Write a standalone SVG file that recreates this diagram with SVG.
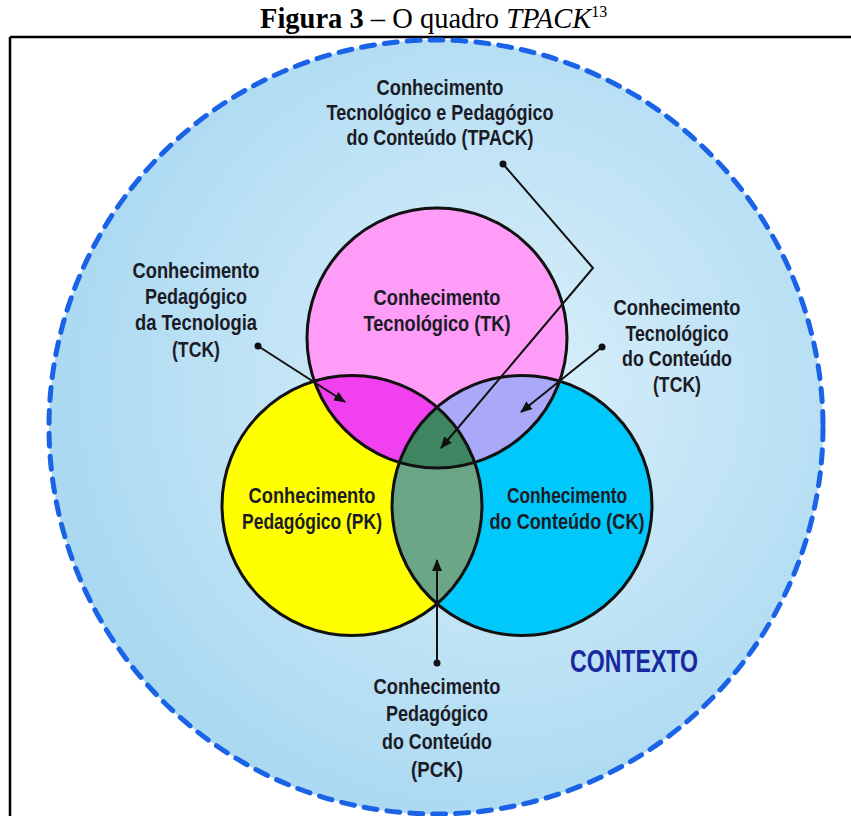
<svg xmlns="http://www.w3.org/2000/svg" width="851" height="816" viewBox="0 0 851 816">
<style>
.lbl{font-family:"Liberation Sans",Arial,sans-serif;font-weight:bold;font-size:22px;fill:#1b1b26;text-anchor:middle}
.ctx{font-family:"Liberation Sans",Arial,sans-serif;font-weight:bold;font-size:31px;fill:#1a28a0;text-anchor:middle}
.ttl{font-family:"Liberation Serif","Times New Roman",serif;font-size:28.5px;fill:#000}
.ring{fill:none;stroke:#111;stroke-width:3}
.conn{stroke:#111;stroke-width:2;fill:none}
</style>
<defs>
<radialGradient id="ctxg" cx="0.58" cy="0.45" r="0.6">
<stop offset="0" stop-color="#dcf0fa"/>
<stop offset="1" stop-color="#a8d8f1"/>
</radialGradient>
<clipPath id="cP"><circle cx="437" cy="338" r="130"/></clipPath>
<clipPath id="cY"><circle cx="352" cy="505.5" r="130"/></clipPath>
<clipPath id="cC"><circle cx="522" cy="505.5" r="130"/></clipPath>
<marker id="ah" viewBox="0 0 12 10" refX="11" refY="5" markerWidth="12" markerHeight="10" markerUnits="userSpaceOnUse" orient="auto">
<path d="M0,0 L12,5 L0,10 z" fill="#111"/>
</marker>
</defs>
<rect width="851" height="816" fill="#fff"/>
<g id="title">
<text class="ttl" x="260" y="28"><tspan font-weight="bold">Figura 3</tspan> – O quadro <tspan font-style="italic">TPACK</tspan><tspan font-size="16" dy="-11">13</tspan></text>
</g>
<g id="frame">
<path d="M10,37 H851 M10,37 V816" stroke="#000" stroke-width="2.5" fill="none"/>
</g>
<g id="context">
<circle cx="436" cy="427" r="387" fill="url(#ctxg)" stroke="#1a62e6" stroke-width="5" stroke-dasharray="13 10" stroke-linecap="round"/>
<text class="ctx" x="634" y="672" textLength="128" lengthAdjust="spacingAndGlyphs">CONTEXTO</text>
</g>
<g id="tk"><circle cx="437" cy="338" r="130" fill="#ff9cf8"/></g>
<g id="pk"><circle cx="352" cy="505.5" r="130" fill="#ffff00"/></g>
<g id="ck"><circle cx="522" cy="505.5" r="130" fill="#00c8fa"/></g>
<g id="tpk"><circle cx="352" cy="505.5" r="130" fill="#f040f0" clip-path="url(#cP)"/></g>
<g id="tck"><circle cx="522" cy="505.5" r="130" fill="#aaa8f8" clip-path="url(#cP)"/></g>
<g id="pck"><circle cx="522" cy="505.5" r="130" fill="#6ba686" clip-path="url(#cY)"/></g>
<g id="tpack"><g clip-path="url(#cP)"><circle cx="522" cy="505.5" r="130" fill="#3f8562" clip-path="url(#cY)"/></g></g>
<g id="rings">
<circle class="ring" cx="437" cy="338" r="130"/>
<circle class="ring" cx="352" cy="505.5" r="130"/>
<circle class="ring" cx="522" cy="505.5" r="130"/>
</g>
<g id="labels">
<text class="lbl" x="440" y="95" textLength="127" lengthAdjust="spacingAndGlyphs">Conhecimento</text>
<text class="lbl" x="440" y="120" textLength="227" lengthAdjust="spacingAndGlyphs">Tecnológico e Pedagógico</text>
<text class="lbl" x="440" y="145" textLength="187" lengthAdjust="spacingAndGlyphs">do Conteúdo (TPACK)</text>
<text class="lbl" x="437" y="305" textLength="127" lengthAdjust="spacingAndGlyphs">Conhecimento</text>
<text class="lbl" x="437" y="331" textLength="147" lengthAdjust="spacingAndGlyphs">Tecnológico (TK)</text>
<text class="lbl" x="312" y="503" textLength="127" lengthAdjust="spacingAndGlyphs">Conhecimento</text>
<text class="lbl" x="312" y="529" textLength="140" lengthAdjust="spacingAndGlyphs">Pedagógico (PK)</text>
<text class="lbl" x="567" y="503" textLength="120" lengthAdjust="spacingAndGlyphs">Conhecimento</text>
<text class="lbl" x="567" y="529" textLength="155" lengthAdjust="spacingAndGlyphs">do Conteúdo (CK)</text>
<text class="lbl" x="196" y="278" textLength="127" lengthAdjust="spacingAndGlyphs">Conhecimento</text>
<text class="lbl" x="196" y="304" textLength="102" lengthAdjust="spacingAndGlyphs">Pedagógico</text>
<text class="lbl" x="196" y="330" textLength="122" lengthAdjust="spacingAndGlyphs">da Tecnologia</text>
<text class="lbl" x="196" y="357" textLength="48" lengthAdjust="spacingAndGlyphs">(TCK)</text>
<text class="lbl" x="677" y="315" textLength="127" lengthAdjust="spacingAndGlyphs">Conhecimento</text>
<text class="lbl" x="677" y="341" textLength="103" lengthAdjust="spacingAndGlyphs">Tecnológico</text>
<text class="lbl" x="677" y="366" textLength="110" lengthAdjust="spacingAndGlyphs">do Conteúdo</text>
<text class="lbl" x="677" y="392" textLength="48" lengthAdjust="spacingAndGlyphs">(TCK)</text>
<text class="lbl" x="437" y="694" textLength="127" lengthAdjust="spacingAndGlyphs">Conhecimento</text>
<text class="lbl" x="437" y="721" textLength="102" lengthAdjust="spacingAndGlyphs">Pedagógico</text>
<text class="lbl" x="437" y="749" textLength="110" lengthAdjust="spacingAndGlyphs">do Conteúdo</text>
<text class="lbl" x="437" y="777" textLength="52" lengthAdjust="spacingAndGlyphs">(PCK)</text>
</g>
<g id="connectors">
<circle cx="503" cy="164" r="3.5" fill="#111"/>
<path class="conn" d="M503,164 L593,268 L441,448" marker-end="url(#ah)"/>
<circle cx="258" cy="346" r="3.5" fill="#111"/>
<path class="conn" d="M258,346 L345,402" marker-end="url(#ah)"/>
<circle cx="602" cy="347" r="3.5" fill="#111"/>
<path class="conn" d="M602,347 L521,412" marker-end="url(#ah)"/>
<circle cx="437" cy="663" r="3.5" fill="#111"/>
<path class="conn" d="M437,663 L437,560" marker-end="url(#ah)"/>
</g>
</svg>
